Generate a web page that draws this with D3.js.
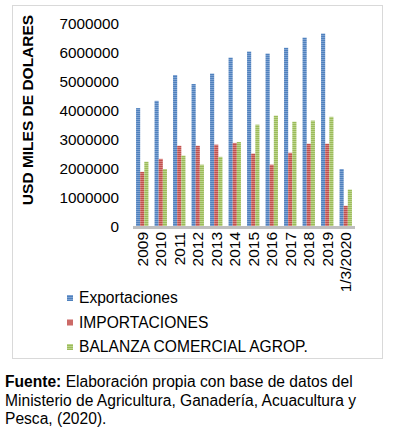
<!DOCTYPE html>
<html>
<head>
<meta charset="utf-8">
<script src="https://cdn.jsdelivr.net/npm/d3@7"></script>
<style>
  body { margin: 0; background: #fff; }
  svg text { font-family: "Liberation Sans", Arial, sans-serif; fill: #000; }
</style>
</head>
<body>
<svg id="chart" width="393" height="428"></svg>
<script>
// data
var years = ["2009","2010","2011","2012","2013","2014","2015","2016","2017","2018","2019","1/3/2020"];
var exportaciones = [4100000,4350000,5240000,4930000,5290000,5840000,6050000,5980000,6180000,6530000,6670000,2000000];
var importaciones = [1900000,2350000,2800000,2800000,2840000,2900000,2530000,2150000,2560000,2870000,2870000,730000];
var balanza       = [2250000,2000000,2460000,2150000,2420000,2930000,3530000,3840000,3630000,3670000,3800000,1290000];
var seriesNames = ["Exportaciones","IMPORTACIONES","BALANZA COMERCIAL AGROP."];
var yTicks = [0,1000000,2000000,3000000,4000000,5000000,6000000,7000000];

var colors = ["#4F81BD","#C0504D","#9BBB59"];
var light  = ["#7FA3D3","#D88381","#BCD48B"];
var seriesVals = [exportaciones, importaciones, balanza];

var svg = d3.select("#chart");

// stripe patterns like the excel texture
var defs = svg.append("defs");
colors.forEach(function(c, i) {
  var p = defs.append("pattern")
    .attr("id", "stripe" + i)
    .attr("patternUnits", "userSpaceOnUse")
    .attr("width", 4).attr("height", 2);
  p.append("rect").attr("width", 4).attr("height", 2).attr("fill", c);
  p.append("rect").attr("y", 1).attr("width", 4).attr("height", 1).attr("fill", light[i]);
});

// chart frame
svg.append("rect")
  .attr("x", 12.5).attr("y", 5.5)
  .attr("width", 370).attr("height", 353)
  .attr("fill", "none")
  .attr("stroke", "#D9D9D9");

var x = d3.scaleBand()
  .domain(years)
  .range([133, 355])
  .paddingInner(0.33)
  .paddingOuter(0.165);

var xs = d3.scaleBand()
  .domain([0,1,2])
  .range([0, x.bandwidth()]);

var y = d3.scaleLinear()
  .domain([0, 7000000])
  .range([227, 24]);

// y tick labels
svg.append("g")
  .selectAll("text")
  .data(yTicks)
  .enter()
  .append("text")
    .attr("x", 119)
    .attr("y", function(d) { return y(d); })
    .attr("dy", "0.35em")
    .attr("text-anchor", "end")
    .style("font-size", "15.3px")
    .text(function(d) { return d; });

// y axis title
svg.append("text")
  .attr("transform", "translate(33,110) rotate(-90)")
  .attr("text-anchor", "middle")
  .style("font-size", "15.5px")
  .style("font-weight", "bold")
  .text("USD MILES DE DOLARES");

// bars
seriesVals.forEach(function(vals, s) {
  svg.append("g")
    .selectAll("rect")
    .data(vals)
    .enter()
    .append("rect")
      .attr("x", function(d, i) { return x(years[i]) + xs(s); })
      .attr("y", function(d) { return y(d); })
      .attr("width", xs.bandwidth())
      .attr("height", function(d) { return y(0) - y(d); })
      .attr("fill", "url(#stripe" + s + ")");
});

// base line
svg.append("line")
  .attr("x1", 133).attr("x2", 355)
  .attr("y1", y(0) + 0.5).attr("y2", y(0) + 0.5)
  .attr("stroke", "#BFBFBF")
  .attr("stroke-width", 3);

// x labels
svg.append("g")
  .selectAll("text")
  .data(years)
  .enter()
  .append("text")
    .attr("transform", function(d) {
      return "translate(" + (x(d) + x.bandwidth() / 2) + ",232) rotate(-90)";
    })
    .attr("dy", "0.35em")
    .attr("text-anchor", "end")
    .style("font-size", "15.5px")
    .text(function(d) { return d; });

// legend
var legend = svg.append("g")
  .selectAll("g")
  .data(seriesNames)
  .enter()
  .append("g")
    .attr("transform", function(d, i) { return "translate(67," + (298 + i * 24.5) + ")"; });
legend.append("rect")
  .attr("x", 0).attr("y", -3)
  .attr("width", 6).attr("height", 6)
  .attr("fill", function(d, i) { return "url(#stripe" + i + ")"; });
legend.append("text")
  .attr("x", 12)
  .attr("dy", "0.35em")
  .style("font-size", "15.6px")
  .text(function(d) { return d; });

// source note
var note = svg.append("text").style("font-size", "15.6px");
var l1 = note.append("tspan").attr("x", 5).attr("y", 387);
l1.append("tspan").style("font-weight", "bold").text("Fuente:");
l1.append("tspan").text(" Elaboración propia con base de datos del");
note.append("tspan").attr("x", 5).attr("y", 405.5).text("Ministerio de Agricultura, Ganadería, Acuacultura y");
note.append("tspan").attr("x", 5).attr("y", 424).text("Pesca, (2020).");
</script>
</body>
</html>
